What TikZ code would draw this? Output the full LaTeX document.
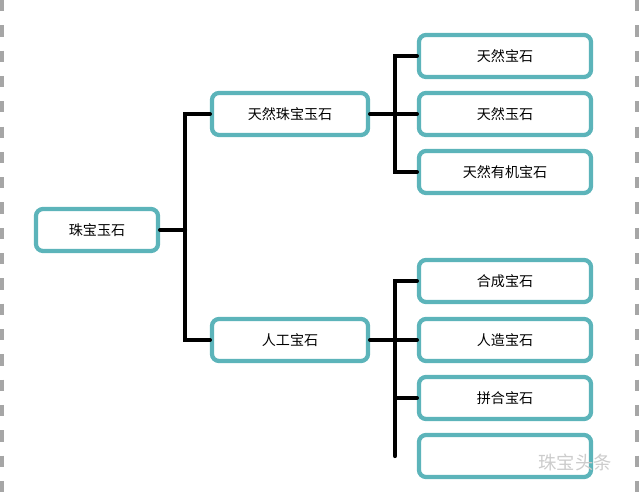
\documentclass[tikz,border=0pt]{standalone}
\usepackage{fontspec}
\setmainfont{Noto Sans CJK SC}
\usetikzlibrary{positioning}
\definecolor{boxteal}{RGB}{92,180,186}
\tikzset{
  gem/.style={draw=boxteal, line width=3pt, rounded corners=5pt, fill=white,
    minimum width=4.3cm, minimum height=1.05cm, font=\fontsize{10}{12}\selectfont},
  wide/.style={gem, minimum width=3.9cm},
  link/.style={line width=3pt, line cap=round}
}
\begin{document}
\begin{tikzpicture}[x=0.025cm,y=-0.025cm]
        \useasboundingbox (0,0) rectangle (640,492);
        %边框
        \draw[gray!70, line width=2.5pt, dash pattern=on 8pt off 10pt] (2,0)--(2,492);
        \draw[gray!70, line width=2.5pt, dash pattern=on 8pt off 10pt] (637,0)--(637,492);
        %节点
        \node[gem, minimum width=3.05cm] (root) at (97,230) {珠宝玉石};
        \node[wide] (natural) at (290,114) {天然珠宝玉石};
        \node[wide] (artificial) at (290,340) {人工宝石};
        \node[gem] (n1) at (505,56) {天然宝石};
        \node[gem] (n2) at (505,114) {天然玉石};
        \node[gem] (n3) at (505,172) {天然有机宝石};
        \node[gem] (a1) at (505,281) {合成宝石};
        \node[gem] (a2) at (505,340) {人造宝石};
        \node[gem] (a3) at (505,398) {拼合宝石};
        \node[gem] (a4) at (505,456) {};
        %连线
        \coordinate (j0) at (185,230);
        \coordinate (j1) at (395,114);
        \coordinate (j2) at (395,340);
        \draw[link] (root.east)--(j0);
        \draw[link] (natural.west)-|(j0)|-(artificial.west);
        \draw[link] (natural.east)--(j1);
        \draw[link] (n1.west)-|(j1)|-(n3.west);
        \draw[link] (j1)--(n2.west);
        \draw[link] (artificial.east)--(j2);
        \draw[link] (a1.west)-|(j2)--(a2.west);
        \draw[link] (j2)|-(a3.west);
        \draw[link] (j2)--(395,456);
        %水印
        \node[text=gray!40, font=\fontsize{13}{15}\selectfont] (mark) at (575,462) {珠宝头条};
\end{tikzpicture}
\end{document}
